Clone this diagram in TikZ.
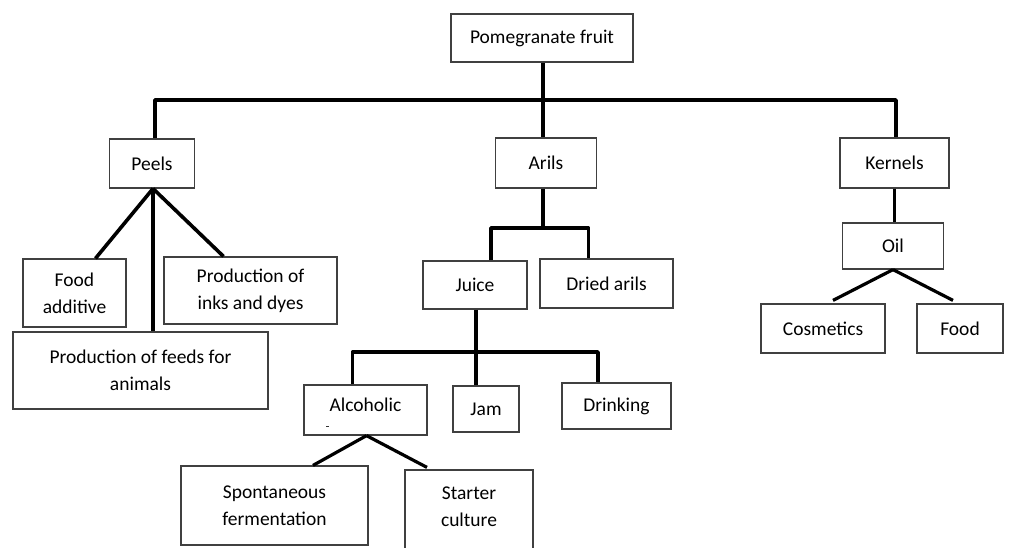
\documentclass[tikz,border=0pt]{standalone}
\usepackage{fontspec}
\setmainfont{Carlito}
\begin{document}
\begin{tikzpicture}[x=1pt,y=-1pt,
  box/.style={draw=black!75, line width=1.2pt, fill=white, align=center, inner sep=0pt,
    font=\fontsize{19.5}{27}\selectfont, text=black},
  conn/.style={line width=3.6pt, black, line join=round}]
\useasboundingbox (0,0) rectangle (1011,547);
% nodes
\node[box, minimum width=182, minimum height=48] (fruit) at (542,38) {Pomegranate fruit};
\node[box, minimum width=85, minimum height=49] (peels) at (152,163.5) {Peels};
\node[box, minimum width=101, minimum height=50] (arils) at (546,163) {Arils};
\node[box, minimum width=109, minimum height=50] (kernels) at (894.5,163) {Kernels};
\node[box, minimum width=101, minimum height=46] (oil) at (893,246) {Oil};
\node[box, minimum width=124, minimum height=49] (cosm) at (823,328.5) {Cosmetics};
\node[box, minimum width=86, minimum height=49] (food) at (960,328.5) {Food};
\node[box, minimum width=103, minimum height=68] (foodadd) at (74.5,293) {Food\\additive};
\node[box, minimum width=173, minimum height=67] (inks) at (250.5,290.5) {Production of\\inks and dyes};
\node[box, minimum width=255, minimum height=77] (feeds) at (140.5,370.5) {Production of feeds for\\animals};
\node[box, minimum width=104, minimum height=48] (juice) at (475,285) {Juice};
\node[box, minimum width=133, minimum height=49] (dried) at (606.5,283.5) {Dried arils};
\node[box, minimum width=123, minimum height=50] (alco) at (365.5,410) {Alcoholic\\[-16pt]\mbox{}};
\node[box, minimum width=66, minimum height=46] (jam) at (486,409) {Jam};
\node[box, minimum width=109, minimum height=46] (drink) at (616.5,406) {Drinking};
\node[box, minimum width=187, minimum height=79] (spont) at (274.5,505.5) {Spontaneous\\fermentation};
\node[box, minimum width=128, minimum height=92] (starter) at (469,516) {Starter\\culture\\[-8pt]\mbox{}};
% stray mark in Alcoholic box
\fill[black!80] (326,425.5) rectangle (328.5,427);
% coordinates of the bars
\coordinate (b1) at (543,100);
\coordinate (b2) at (543,228);
\coordinate (b3) at (476,352);
% top level
\draw[conn] (fruit.south -| b1) -- (b1);
\draw[conn] ([xshift=3]peels.north) |- (b1) -| ([xshift=1.5]kernels.north);
\draw[conn] (b1) -- (arils.north -| b1);
% peels
\draw[conn] ([xshift=1]peels.south) -- ([xshift=21]foodadd.north);
\draw[conn] ([xshift=1]peels.south) -- ([xshift=-27]inks.north);
\draw[conn] ([xshift=1]peels.south) -- ([xshift=1]peels.south |- feeds.north);
% arils
\draw[conn] (arils.south -| b2) -- (b2);
\draw[conn] ([xshift=16]juice.north) |- (b2) -| ([xshift=-18]dried.north);
% juice
\draw[conn] ([xshift=1]juice.south) -- (b3);
\draw[conn] ([xshift=-13]alco.north) |- (b3) -| ([xshift=-18.5]drink.north);
\draw[conn] (b3) -- ([xshift=-10]jam.north);
% alcoholic
\draw[conn, line width=3.2pt] ([xshift=1]alco.south) -- ([xshift=38.5]spont.north);
\draw[conn, line width=3.2pt] ([xshift=1]alco.south) -- ([xshift=-42,yshift=2]starter.north);
% kernels / oil
\draw[conn] (kernels.south) -- (kernels.south |- oil.north);
\draw[conn, line width=3.2pt] (oil.south) -- ([xshift=10,yshift=3]cosm.north);
\draw[conn, line width=3.2pt] (oil.south) -- ([xshift=-7,yshift=3]food.north);
\end{tikzpicture}
\end{document}
